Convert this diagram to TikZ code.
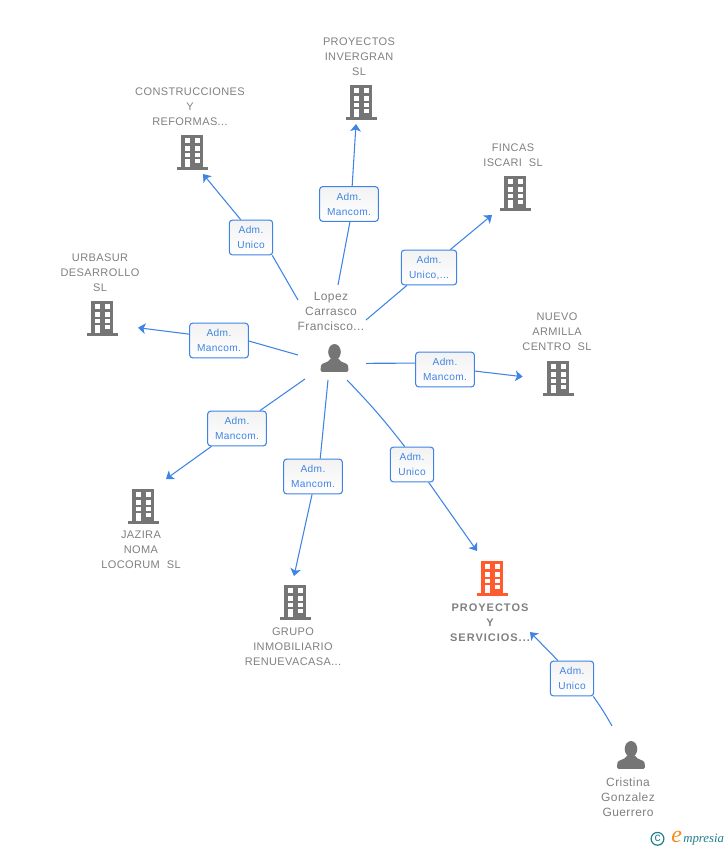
\documentclass[tikz,border=0pt]{standalone}
\usepackage{fontspec}
\setmainfont{Liberation Sans}[LetterSpace=3.5]
\usetikzlibrary{arrows.meta}

\definecolor{wireblue}{HTML}{3F84E5}
\definecolor{labelgray}{HTML}{808080}
\definecolor{icongray}{HTML}{757575}
\definecolor{iconorange}{HTML}{FF5B2E}
\definecolor{logoteal}{HTML}{1F7F8C}
\definecolor{logoorange}{HTML}{F28C1E}

\tikzset{
    badge/.style={draw=wireblue, line width=0.8pt, rounded corners=2.2pt, top color=black!5, bottom color=white, text=wireblue, align=center, inner sep=0pt, minimum height=26pt, font={\fontsize{7.6}{11.25}\selectfont}},
    wide/.style={badge, minimum width=44pt},
    narrow/.style={badge, minimum width=32.5pt},
    wire/.style={draw=wireblue, line width=0.8pt},
    wiretip/.style={wire, -{Stealth[length=5.5pt, width=8pt, inset=1.4pt]}},
    company/.style={text=labelgray, align=center, inner sep=0pt, font={\fontsize{8.25}{11.25}\selectfont}},
    companymain/.style={company, font={\fontsize{8.25}{11.25}\selectfont\bfseries\addfontfeature{LetterSpace=9}}},
    personname/.style={text=labelgray, align=center, inner sep=0pt, font={\fontsize{9}{11.25}\selectfont}},
    pics/buildingicon/.style={code={
        \fill[#1] (-11,-17) rectangle (11,15);
        \fill[#1] (-15.5,15) rectangle (15.5,17.5);
        \fill[white] (-7,-13.7) rectangle (-2,-9);
        \fill[white] (2.5,-13.7) rectangle (7.5,-9);
        \fill[white] (-7,-6) rectangle (-2,-1.3);
        \fill[white] (2.5,-6) rectangle (7.5,-1.3);
        \fill[white] (-7,0.7) rectangle (-2,4.7);
        \fill[white] (2.5,0.7) rectangle (7.5,4.7);
        \fill[white] (-7,7.3) rectangle (-2,15);
        \fill[white] (2.5,7.3) rectangle (7.5,11.3);
    }},
    pics/personicon/.style={code={
        \fill[icongray] (0,-6) ellipse (6.3 and 8);
        \fill[icongray, rounded corners=1pt] (-13.8,13.8) -- (-13.8,9) .. controls (-13,4.5) and (-6,5) .. (-4,0) -- (4,0) .. controls (6,5) and (13,4.5) .. (13.8,9) -- (13.8,13.8) -- cycle;
    }},
}

\begin{document}
\begin{tikzpicture}[x=0.75pt, y=-0.75pt]
        \useasboundingbox (0,0) rectangle (728,850);

        % Icons
        \coordinate (lopez) at (334.5,358);
        \coordinate (cristina) at (631,755);
        \pic at (lopez) {personicon};
        \pic at (cristina) {personicon};
        \pic at (361,102) {buildingicon=icongray};
        \pic at (192,152) {buildingicon=icongray};
        \pic at (515,193) {buildingicon=icongray};
        \pic at (558,378) {buildingicon=icongray};
        \pic at (102,318) {buildingicon=icongray};
        \pic at (143,506) {buildingicon=icongray};
        \pic at (295,602) {buildingicon=icongray};
        \pic at (492,578) {buildingicon=iconorange};

        % Labels
        \node[company] (invergran) at (359,56.7) {PROYECTOS\\INVERGRAN\\SL};
        \node[company] (construcciones) at (190,106.7) {CONSTRUCCIONES\\Y\\REFORMAS...};
        \node[company] (fincas) at (513,155) {FINCAS\\ISCARI~~SL};
        \node[company] (armilla) at (557,331.7) {NUEVO\\ARMILLA\\CENTRO~~SL};
        \node[company] (urbasur) at (100,272.7) {URBASUR\\DESARROLLO\\SL};
        \node[company] (jazira) at (141,549.7) {JAZIRA\\NOMA\\LOCORUM~~SL};
        \node[company] (grupo) at (293,646.7) {GRUPO\\INMOBILIARIO\\RENUEVACASA...};
        \node[companymain] (servicios) at (490,622.7) {PROYECTOS\\Y\\SERVICIOS...};
        \node[personname] (lopezname) at (331,311) {Lopez\\Carrasco\\Francisco...};
        \node[personname] (cristinaname) at (628,797) {Cristina\\Gonzalez\\Guerrero};

        % Cargos
        \node[wide] (adm1) at (349,204) {Adm.\\Mancom.};
        \node[narrow] (adm2) at (251,237.5) {Adm.\\Unico};
        \node[badge, minimum width=41.5pt] (adm3) at (429,267.5) {Adm.\\Unico,...};
        \node[wide] (adm4) at (445,369.5) {Adm.\\Mancom.};
        \node[wide] (adm5) at (219,340.5) {Adm.\\Mancom.};
        \node[wide] (adm6) at (237,428.5) {Adm.\\Mancom.};
        \node[wide] (adm7) at (313,476.5) {Adm.\\Mancom.};
        \node[narrow] (adm8) at (412,464.5) {Adm.\\Unico};
        \node[narrow] (adm9) at (572,678.5) {Adm.\\Unico};

        % Extremos
        \coordinate (from1) at (338,285);
        \coordinate (to1) at (356,124);
        \coordinate (from2) at (298,300);
        \coordinate (to2) at (203,174);
        \coordinate (from3) at (366,320);
        \coordinate (to3) at (492,215);
        \coordinate (from4) at (366,363.3);
        \coordinate (to4) at (522.7,376.7);
        \coordinate (from5) at (298,355);
        \coordinate (to5) at (138,327.7);
        \coordinate (from6) at (305,379);
        \coordinate (to6) at (166,479);
        \coordinate (from7) at (328,380);
        \coordinate (to7) at (294,576);
        \coordinate (from8) at (347,380);
        \coordinate (to8) at (477,551);
        \coordinate (from9) at (612,726);
        \coordinate (to9) at (530,632);

        \draw[wire] (from1) -- (adm1.-87);
        \draw[wiretip] (adm1.80) -- (to1);
        \draw[wire] (from2) -- (adm2.-40);
        \draw[wiretip] (adm2.120) -- (to2);
        \draw[wire] (from3) -- (adm3.219);
        \draw[wiretip] (adm3.40) -- (to3);
        \draw[wire] (from4) -- (adm4.168);
        \draw[wiretip] (adm4.-3) -- (to4);
        \draw[wire] (from5) -- (adm5.-1);
        \draw[wiretip] (adm5.168) -- (to5);
        \draw[wire] (from6) -- (adm6.38);
        \draw[wiretip] (adm6.215) -- (to6);
        \draw[wire] (from7) -- (adm7.68);
        \draw[wiretip] (adm7.267) -- (to7);
        \draw[wire] (from8) to[bend left=3] (adm8.112);
        \draw[wiretip] (adm8.-47) -- (to8);
        \draw[wire] (from9) to[bend right=3] (adm9.-40);
        \draw[wiretip] (adm9.128) -- (to9);

        % Logo
        \node[circle, draw=logoteal, line width=0.9pt, text=logoteal, inner sep=0pt, minimum size=9.6pt, font={\fontsize{9}{9}\selectfont}] (copyr) at (657.5,838.8) {c};
        \node[inner sep=0pt, anchor=west, text=logoorange, font={\fontspec{Liberation Serif}\itshape\fontsize{18}{18}\selectfont}] (logoe) at (671,837) {e};
        \node[inner sep=0pt, anchor=west, text=logoteal, font={\fontspec{Liberation Serif}\itshape\fontsize{9.6}{9.6}\selectfont}] (logotext) at (683,839.5) {mpresia};
    \end{tikzpicture}
\end{document}
